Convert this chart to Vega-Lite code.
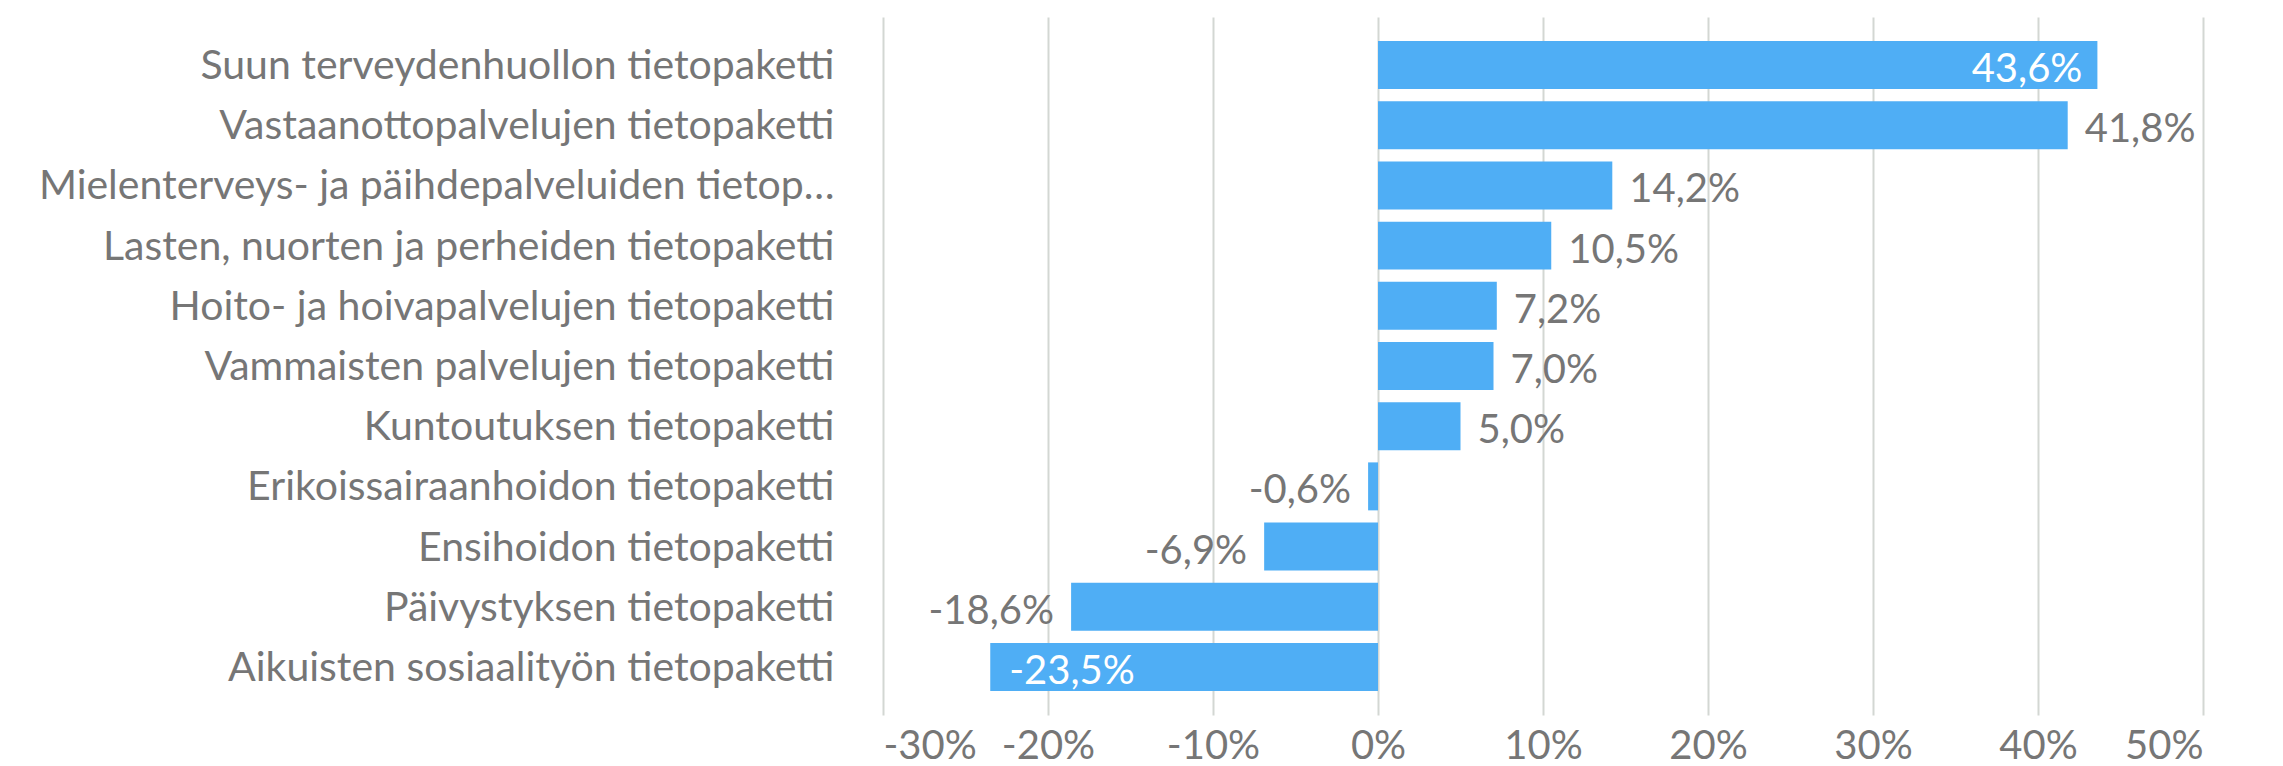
{
  "$schema": "https://vega.github.io/schema/vega-lite/v6.json",
  "autosize": {"type": "none"},
  "padding": {"left": 883, "top": 17, "right": 80, "bottom": 51},
  "width": 1320,
  "height": 698,
  "background": "white",
  "config": {
    "view": {"stroke": null},
    "locale": {
      "number": {"decimal": ",", "thousands": " ", "grouping": [3], "currency": ["", " €"], "minus": "-"}
    },
    "font": "Lato",
    "text": {"font": "Lato"}
  },
  "data": {
    "values": [
      {"kategoria": "Suun terveydenhuollon tietopaketti", "muutos": 0.436},
      {"kategoria": "Vastaanottopalvelujen tietopaketti", "muutos": 0.418},
      {"kategoria": "Mielenterveys- ja päihdepalveluiden tietop…", "muutos": 0.142},
      {"kategoria": "Lasten, nuorten ja perheiden tietopaketti", "muutos": 0.105},
      {"kategoria": "Hoito- ja hoivapalvelujen tietopaketti", "muutos": 0.072},
      {"kategoria": "Vammaisten palvelujen tietopaketti", "muutos": 0.070},
      {"kategoria": "Kuntoutuksen tietopaketti", "muutos": 0.050},
      {"kategoria": "Erikoissairaanhoidon tietopaketti", "muutos": -0.006},
      {"kategoria": "Ensihoidon tietopaketti", "muutos": -0.069},
      {"kategoria": "Päivystyksen tietopaketti", "muutos": -0.186},
      {"kategoria": "Aikuisten sosiaalityön tietopaketti", "muutos": -0.235}
    ]
  },
  "encoding": {
    "y": {
      "field": "kategoria",
      "type": "nominal",
      "sort": null,
      "scale": {"paddingInner": 0.203, "paddingOuter": 0.4},
      "axis": {
        "title": null,
        "domain": false,
        "ticks": false,
        "grid": false,
        "labelFont": "Lato",
        "labelFontSize": 41,
        "labelColor": "#767676",
        "labelPadding": 49,
        "labelLimit": 0,
        "labelBaseline": "middle",
        "labelOffset": 2
      }
    },
    "x": {
      "field": "muutos",
      "type": "quantitative",
      "scale": {"domain": [-0.3, 0.5], "nice": false, "zero": true},
      "axis": {
        "title": null,
        "format": ".0%",
        "values": [-0.3, -0.2, -0.1, 0, 0.1, 0.2, 0.3, 0.4, 0.5],
        "domain": false,
        "ticks": false,
        "grid": true,
        "gridColor": "#D3D7D3",
        "gridWidth": 2,
        "labelFont": "Lato",
        "labelFontSize": 40,
        "labelColor": "#767676",
        "labelBaseline": "alphabetic",
        "labelPadding": 43
      }
    }
  },
  "layer": [
    {"mark": {"type": "bar", "color": "#4FAEF5"}},
    {
      "transform": [{"filter": "datum.muutos >= 0 && datum.muutos < 0.43"}],
      "mark": {"type": "text", "align": "left", "baseline": "middle", "dx": 17, "dy": 5, "fontSize": 40, "color": "#767676"},
      "encoding": {"text": {"field": "muutos", "type": "quantitative", "format": ".1%"}}
    },
    {
      "transform": [{"filter": "datum.muutos < 0 && datum.muutos > -0.2"}],
      "mark": {"type": "text", "align": "right", "baseline": "middle", "dx": -17, "dy": 5, "fontSize": 40, "color": "#767676"},
      "encoding": {"text": {"field": "muutos", "type": "quantitative", "format": ".1%"}}
    },
    {
      "transform": [{"filter": "datum.muutos >= 0.43"}],
      "mark": {"type": "text", "align": "right", "baseline": "middle", "dx": -15, "dy": 5, "fontSize": 40, "color": "white"},
      "encoding": {"text": {"field": "muutos", "type": "quantitative", "format": ".1%"}}
    },
    {
      "transform": [{"filter": "datum.muutos <= -0.2"}],
      "mark": {"type": "text", "align": "left", "baseline": "middle", "dx": 19, "dy": 5, "fontSize": 40, "color": "white"},
      "encoding": {"text": {"field": "muutos", "type": "quantitative", "format": ".1%"}}
    }
  ]
}
